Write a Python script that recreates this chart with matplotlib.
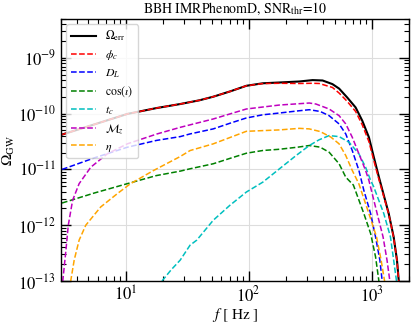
import matplotlib
matplotlib.use("Agg")
import matplotlib.pyplot as plt
import matplotlib.ticker as mticker
import numpy as np

# values, stored as log10(f / Hz) and log10(Omega_GW)
err_lf = [0.484, 0.75, 1.014, 1.25, 1.444, 1.60, 1.712, 1.85, 1.981, 2.115, 2.25,
          2.411, 2.519, 2.60, 2.68, 2.734, 2.80, 2.868, 2.922, 2.976, 3.016, 3.060,
          3.137, 3.177, 3.204, 3.218, 3.235]
err_lo = [-10.375, -10.19, -10.005, -9.90, -9.827, -9.76, -9.696, -9.60, -9.50, -9.455, -9.441,
          -9.423, -9.398, -9.405, -9.47, -9.55, -9.71, -9.888, -10.125, -10.423, -10.78, -11.16,
          -11.791, -12.209, -12.625, -12.982, -13.3]

phi_lf = [0.484, 0.75, 1.014, 1.25, 1.444, 1.60, 1.712, 1.85, 1.981, 2.115, 2.25,
          2.411, 2.519, 2.573, 2.68, 2.734, 2.80, 2.868, 2.922, 2.976, 3.016, 3.060,
          3.137, 3.177, 3.204, 3.218, 3.235]
phi_lo = [-10.375, -10.19, -10.005, -9.90, -9.827, -9.76, -9.696, -9.60, -9.50, -9.46, -9.455,
          -9.459, -9.455, -9.459, -9.53, -9.63, -9.78, -9.96, -10.20, -10.50, -10.84, -11.20,
          -11.80, -12.22, -12.63, -12.99, -13.3]

dl_lf = [0.484, 0.75, 1.014, 1.25, 1.444, 1.524, 1.712, 1.85, 1.981, 2.115, 2.25, 2.40,
         2.492, 2.58, 2.653, 2.734, 2.788, 2.841, 2.895, 2.935, 2.990, 3.030, 3.065,
         3.083, 3.10]
dl_lo = [-11.00, -10.79, -10.602, -10.48, -10.411, -10.363, -10.273, -10.17, -10.077, -10.02, -9.988, -9.95,
         -9.929, -9.96, -10.036, -10.184, -10.363, -10.661, -11.018, -11.375, -11.791, -12.209, -12.625,
         -12.982, -13.3]

cos_lf = [0.484, 0.75, 1.014, 1.25, 1.444, 1.524, 1.712, 1.85, 1.981, 2.115, 2.25, 2.40,
          2.492, 2.58, 2.653, 2.734, 2.788, 2.85, 2.935, 2.990, 3.030, 3.056, 3.07]
cos_lo = [-11.602, -11.42, -11.255, -11.11, -11.030, -10.988, -10.898, -10.80, -10.709, -10.66, -10.638, -10.60,
          -10.571, -10.60, -10.691, -10.898, -11.138, -11.28, -11.791, -12.148, -12.566, -12.982, -13.3]

tc_lf = [1.296, 1.37, 1.444, 1.524, 1.578, 1.712, 1.847, 1.981, 2.115, 2.25, 2.385, 2.492,
         2.57, 2.653, 2.734, 2.815, 2.895, 2.949, 2.990, 3.013, 3.097, 3.151, 3.177, 3.199, 3.21]
tc_lo = [-13.0, -12.80, -12.625, -12.357, -12.268, -11.911, -11.643, -11.405, -11.227, -10.988, -10.750, -10.571,
         -10.47, -10.393, -10.411, -10.513, -10.720, -10.959, -11.196, -11.30, -11.791, -12.209, -12.625, -12.982, -13.2]

mz_lf = [0.484, 0.491, 0.516, 0.535, 0.570, 0.623, 0.718, 0.852, 1.014, 1.256, 1.444, 1.712, 1.981,
         2.25, 2.492, 2.546, 2.653, 2.734, 2.788, 2.841, 2.895, 2.949, 2.976, 3.043, 3.091,
         3.123, 3.145, 3.16]
mz_lo = [-13.3, -12.982, -12.446, -12.0, -11.554, -11.255, -10.959, -10.720, -10.541, -10.363, -10.245, -10.095, -9.916,
         -9.845, -9.809, -9.827, -9.916, -10.036, -10.184, -10.423, -10.720, -11.018, -11.196, -11.791, -12.209,
         -12.625, -12.982, -13.3]

eta_lf = [0.545, 0.556, 0.583, 0.623, 0.677, 0.798, 0.933, 1.040, 1.228, 1.444, 1.524, 1.712, 1.981,
          2.25, 2.411, 2.492, 2.58, 2.667, 2.734, 2.788, 2.841, 2.895, 2.976, 3.038, 3.075,
          3.102, 3.12]
eta_lo = [-13.3, -12.982, -12.625, -12.268, -12.0, -11.673, -11.434, -11.255, -11.018, -10.768, -10.661, -10.541, -10.316,
          -10.291, -10.263, -10.273, -10.32, -10.42, -10.541, -10.750, -11.018, -11.26, -11.791, -12.209, -12.625,
          -12.982, -13.3]

curves = [
    (err_lf, err_lo, r"$\Omega_{\rm err}$", "k", "-", 1.5),
    (phi_lf, phi_lo, r"$\phi_c$", "r", "--", 1.1),
    (dl_lf, dl_lo, r"$D_L$", "b", "--", 1.1),
    (cos_lf, cos_lo, r"$\cos(\iota)$", "g", "--", 1.1),
    (tc_lf, tc_lo, r"$t_c$", "c", "--", 1.1),
    (mz_lf, mz_lo, r"$\mathcal{M}_z$", "m", "--", 1.1),
    (eta_lf, eta_lo, r"$\eta$", "orange", "--", 1.1),
]

plt.rcParams["font.family"] = "STIXGeneral"
plt.rcParams["mathtext.fontset"] = "stix"

fig = plt.figure(figsize=(4.16, 3.26), dpi=100)
ax = fig.add_axes([0.147, 0.138, 0.836, 0.804])

for lf, lo, label, color, ls, lw in curves:
    ax.plot(10 ** np.array(lf), 10 ** np.array(lo), color=color, ls=ls, lw=lw, label=label)

ax.set_xscale("log")
ax.set_yscale("log")
ax.set_xlim(3, 2000)
ax.set_ylim(1e-13, 5e-9)
ax.xaxis.set_minor_formatter(mticker.NullFormatter())
ax.yaxis.set_minor_formatter(mticker.NullFormatter())

ax.grid(True, which="major", color="#dddddd", lw=0.8)
ax.tick_params(which="both", direction="in", top=True, right=True, labelsize=12)
ax.tick_params(which="major", length=7, width=1.0)
ax.tick_params(which="minor", length=3.5, width=0.8)
for sp in ax.spines.values():
    sp.set_linewidth(1.0)

ax.set_title(r"BBH IMRPhenomD, SNR$_{\rm thr}$=10", fontsize=10, pad=4)
ax.set_xlabel(r"$f$ [ Hz ]", fontsize=11, labelpad=0)
ax.set_ylabel(r"$\Omega_{\rm GW}$", fontsize=11, labelpad=1)

ax.legend(loc="upper left", fontsize=8.5, handlelength=2.1, labelspacing=0.42,
          borderaxespad=0.45)

fig.savefig("out.png", dpi=100)
